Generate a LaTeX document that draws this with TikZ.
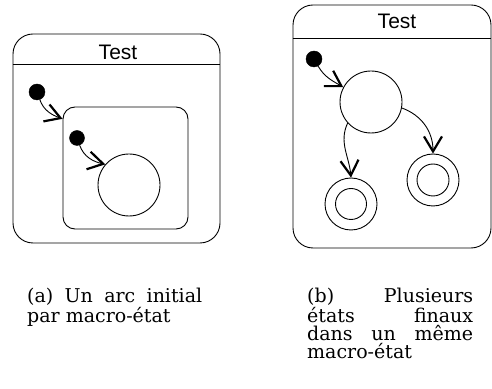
\documentclass[tikz,border=0pt]{standalone}
\usepackage{fontspec}
\usepackage{tikz}
\usetikzlibrary{arrows.meta, positioning}
\newfontfamily\titlefont{Liberation Sans}
\newfontfamily\capfont{DejaVu Serif}

\begin{document}
\begin{tikzpicture}[x=1pt, y=1pt,
				macro/.style={draw, line width=0.9pt, rounded corners=20pt, inner sep=0pt},
				submacro/.style={draw, line width=0.9pt, rounded corners=12pt, inner sep=0pt},
				title/.style={font=\titlefont\fontsize{21}{21}\selectfont, inner sep=0pt},
				initdot/.style={circle, fill=black, draw=black, inner sep=0pt, minimum size=16pt},
				simple/.style={circle, draw, line width=0.9pt, inner sep=0pt, minimum size=62pt},
				final_out/.style={circle, draw, line width=0.9pt, inner sep=0pt, minimum size=52pt},
				final_in/.style={circle, draw, line width=0.9pt, inner sep=0pt, minimum size=31pt},
				caption/.style={font=\capfont\fontsize{19}{18}\selectfont, inner sep=0pt, align=left},
				arrowstyle/.style={-{Straight Barb[length=15pt, width=18pt, line width=2.2pt]}, line width=0.9pt}
			]
			\useasboundingbox (0,0) rectangle (492,388);

			% --- (a) one initial arc per macro-state ---
			\node[macro, minimum width=207pt, minimum height=209pt] (macro_a) at (116.5, 249.5) {};
			\draw[line width=0.9pt] (macro_a.west |- 0,324) -- (macro_a.east |- 0,324);
			\node[title] (title_a) at (118, 336) {Test};

			\node[initdot] (init_a) at (37, 296) {};
			\node[submacro, minimum width=125pt, minimum height=122pt] (sub_a) at (125.5, 220) {};
			\node[initdot, minimum size=15pt] (init_sub) at (77, 250) {};
			\node[simple] (st_a) at (129, 203) {};

			% --- (b) several final states in one macro-state ---
			\node[macro, minimum width=198pt, minimum height=243pt] (macro_b) at (392, 261.5) {};
			\draw[line width=0.9pt] (macro_b.west |- 0,350) -- (macro_b.east |- 0,350);
			\node[title] (title_b) at (397, 366.5) {Test};

			\node[initdot] (init_b) at (314, 329) {};
			\node[simple] (st_b) at (371, 286) {};
			\node[final_out] (fin_l) at (351, 184) {};
			\node[final_in] (fin_l_in) at (351, 184) {};
			\node[final_out] (fin_r) at (433, 208) {};
			\node[final_in, minimum size=32pt] (fin_r_in) at (433, 208) {};

			% --- Captions (base = last line) ---
			\node[caption, anchor=base west] (cap_a) at (27, 66)
				{\makebox[175pt][s]{(a) Un arc initial}\\par macro-état};
			\node[caption, anchor=base west] (cap_b) at (307, 30)
				{\makebox[166pt][s]{(b) Plusieurs}\\\makebox[166pt][s]{états finaux}\\\makebox[166pt][s]{dans un même}\\macro-état};

			% --- Connections ---
			\draw[arrowstyle] (init_a) to[out=-70, in=160] (sub_a.142);
			\draw[arrowstyle] (init_sub) to[out=-70, in=167] (st_a.139);

			\draw[arrowstyle] (init_b) to[out=-60, in=149] (st_b.152);
			\draw[arrowstyle] (st_b.222) to[out=245, in=95] (fin_l.north);
			\draw[arrowstyle] (st_b.-11) to[out=-20, in=90] (fin_r.north);

		\end{tikzpicture}
\end{document}
